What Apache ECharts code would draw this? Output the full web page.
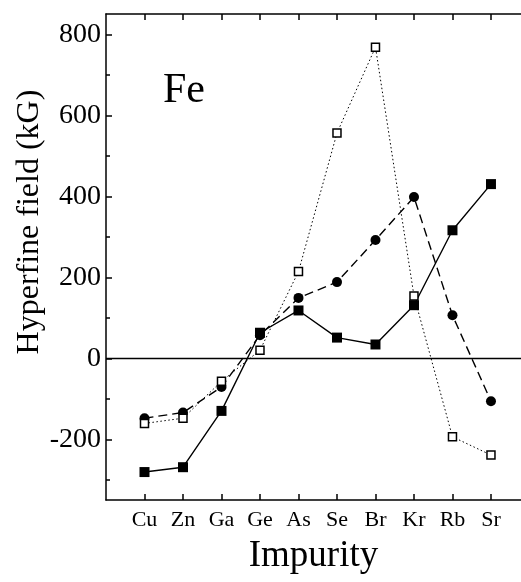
<!DOCTYPE html>
<html>
<head>
<meta charset="utf-8">
<script src="https://cdn.jsdelivr.net/npm/echarts@6/dist/echarts.min.js"></script>
<style>
  html, body { margin: 0; padding: 0; background: #fff; }
  #chart { width: 521px; height: 582px; }
</style>
</head>
<body>
<div id="chart"></div>
<script>
  // impurities along the x axis (placed at 1..10)
  const impurities = ['Cu', 'Zn', 'Ga', 'Ge', 'As', 'Se', 'Br', 'Kr', 'Rb', 'Sr'];
  // hyperfine fields, kG
  const solidSquares = [-281, -269, -130, 63, 118, 51, 34, 131, 316, 430];
  const dashedCircles = [-148, -134, -71, 57, 149, 188, 292, 398, 106, -106];
  const dottedOpen = [-161, -148, -57, 20, 214, 556, 768, 154, -194, -239];
  const yLabelValues = [-200, 0, 200, 400, 600, 800];
  const yMinorValues = [-300, -100, 100, 300, 500, 700];

  const font = 'Liberation Serif, Times New Roman, serif';
  const xPos = impurities.map((_, i) => i + 1);
  const pairs = arr => arr.map((v, i) => [xPos[i], v]);

  const chart = echarts.init(document.getElementById('chart'));

  const xBase = {
    type: 'value',
    min: 0,
    max: 10.78,
    splitLine: { show: false },
    axisLine: { show: true, onZero: false, lineStyle: { color: '#000', width: 1.5 } },
    axisTick: { show: true, inside: true, length: 6, customValues: xPos, lineStyle: { color: '#000', width: 1.5 } }
  };

  let option = {
    animation: false,
    grid: { left: 106, right: 0, top: 14, bottom: 82, containLabel: false },
    xAxis: [
      Object.assign({}, xBase, {
        position: 'bottom',
        name: 'Impurity',
        nameLocation: 'middle',
        nameGap: 38,
        nameTextStyle: { fontFamily: font, fontSize: 37, color: '#000' },
        axisLabel: {
          customValues: xPos,
          formatter: v => impurities[Math.round(v) - 1] || '',
          fontFamily: font, fontSize: 22, color: '#000', margin: 9
        }
      }),
      Object.assign({}, xBase, {
        position: 'top',
        axisLabel: { show: false }
      })
    ],
    yAxis: [
      {
        type: 'value',
        min: -350,
        max: 850,
        splitLine: { show: false },
        axisLine: { show: true, onZero: false, lineStyle: { color: '#000', width: 1.5 } },
        axisTick: { show: true, inside: true, length: 6, customValues: yLabelValues, lineStyle: { color: '#000', width: 1.5 } },
        axisLabel: { customValues: yLabelValues, fontFamily: font, fontSize: 28, color: '#000', margin: 5 }
      },
      {
        type: 'value',
        min: -350,
        max: 850,
        position: 'left',
        splitLine: { show: false },
        axisLine: { show: false },
        axisTick: { show: true, inside: true, length: 4, customValues: yMinorValues, lineStyle: { color: '#000', width: 1.5 } },
        axisLabel: { show: false }
      }
    ],
    graphic: [
      {
        type: 'text',
        x: 30, y: 222,
        rotation: Math.PI / 2,
        style: { text: 'Hyperfine field (kG)', font: '32px ' + font, fill: '#000', align: 'center', verticalAlign: 'middle' }
      },
      {
        type: 'text',
        left: 163, top: 70,
        style: { text: 'Fe', font: '42px ' + font, fill: '#000' }
      }
    ],
    series: [
      {
        name: 'solid',
        type: 'line',
        data: pairs(solidSquares),
        symbol: 'rect',
        symbolSize: 10,
        itemStyle: { color: '#000' },
        lineStyle: { color: '#000', width: 1.4, type: 'solid' },
        markLine: {
          silent: true,
          symbol: 'none',
          label: { show: false },
          lineStyle: { color: '#000', width: 1.3, type: 'solid' },
          data: [{ yAxis: 0 }]
        }
      },
      {
        name: 'dashed',
        type: 'line',
        data: pairs(dashedCircles),
        symbol: 'circle',
        symbolSize: 10,
        itemStyle: { color: '#000' },
        lineStyle: { color: '#000', width: 1.4, type: [9, 5] }
      },
      {
        name: 'dotted',
        type: 'line',
        data: pairs(dottedOpen),
        symbol: 'rect',
        symbolSize: 8,
        itemStyle: { color: '#fff', borderColor: '#000', borderWidth: 1.5 },
        lineStyle: { color: '#000', width: 1, type: [1.5, 2.5] }
      }
    ]
  };

  chart.setOption(option);
</script>
</body>
</html>
